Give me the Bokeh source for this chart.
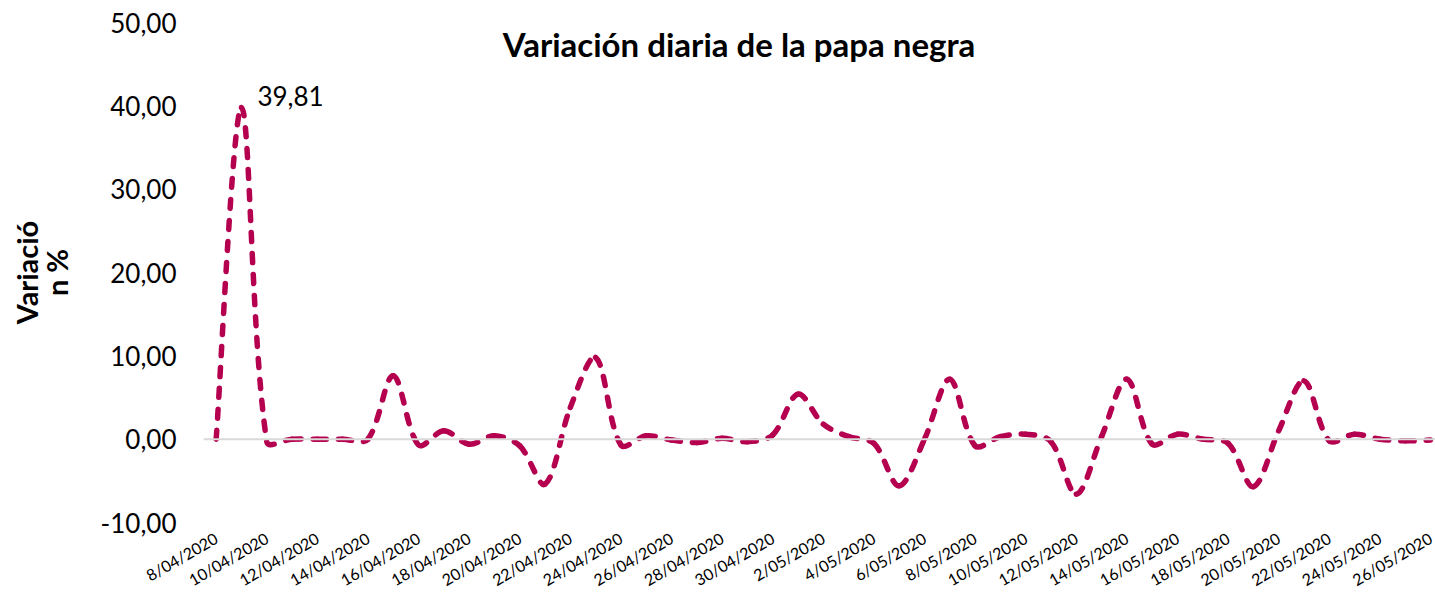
import math
from bokeh.plotting import figure
from bokeh.models import Range1d, FixedTicker, Span, Label
from bokeh.embed import file_html
from bokeh.resources import INLINE

# ---------------- data ----------------
dates = [
    "8/04/2020", "9/04/2020", "10/04/2020", "11/04/2020", "12/04/2020", "13/04/2020",
    "14/04/2020", "15/04/2020", "16/04/2020", "17/04/2020", "18/04/2020", "19/04/2020",
    "20/04/2020", "21/04/2020", "22/04/2020", "23/04/2020", "24/04/2020", "25/04/2020",
    "26/04/2020", "27/04/2020", "28/04/2020", "29/04/2020", "30/04/2020",
    "1/05/2020", "2/05/2020", "3/05/2020", "4/05/2020", "5/05/2020", "6/05/2020",
    "7/05/2020", "8/05/2020", "9/05/2020", "10/05/2020", "11/05/2020", "12/05/2020",
    "13/05/2020", "14/05/2020", "15/05/2020", "16/05/2020", "17/05/2020", "18/05/2020",
    "19/05/2020", "20/05/2020", "21/05/2020", "22/05/2020", "23/05/2020", "24/05/2020",
    "25/05/2020", "26/05/2020",
]
variacion = [
    0.0, 39.81, -0.3, 0.0, 0.0, 0.0,
    0.0, 7.6, -0.7, 1.0, -0.6, 0.4,
    -0.8, -5.4, 3.8, 9.8, -0.7, 0.4,
    -0.1, -0.4, 0.1, -0.3, 0.5,
    5.4, 1.8, 0.3, -0.5, -5.6, 0.0,
    7.2, -0.8, 0.3, 0.6, -0.3, -6.6,
    0.3, 7.2, -0.6, 0.6, 0.0, -0.5,
    -5.7, 1.0, 7.0, -0.2, 0.6, 0.0,
    -0.2, -0.1,
]
y_ticks = [-10, 0, 10, 20, 30, 40, 50]
y_tick_labels = ["-10,00", "0,00", "10,00", "20,00", "30,00", "40,00", "50,00"]
title_text = "Variación diaria de la papa negra"
y_title = "Variació\nn %"

# ---------------- layout ----------------
W, H = 1435, 601
FRAME_L, FRAME_T, FRAME_B = 203, 22, 79
X0, X1 = -0.5, 48.2
Y0, Y1 = -10, 50
LINE_COLOR = "#B4004E"
FONT = "Lato"

p = figure(width=W, height=H, output_backend="svg", toolbar_location=None,
           x_range=Range1d(X0, X1), y_range=Range1d(Y0, Y1),
           min_border_left=FRAME_L, min_border_right=0,
           min_border_top=FRAME_T, min_border_bottom=FRAME_B)
p.outline_line_color = None
p.xgrid.visible = False
p.ygrid.visible = False
p.background_fill_color = "white"
p.border_fill_color = "white"

# zero line
p.add_layout(Span(location=0, dimension="width", line_color="#D9D9D9", line_width=2))

# smoothed dashed line: Bezier segments whose control points come from the data
xs = list(range(len(variacion)))
frame_w = W - FRAME_L
frame_h = H - FRAME_T - FRAME_B
sx = frame_w / (X1 - X0)
sy = frame_h / (Y1 - Y0)
P = [(x * sx, v * sy) for x, v in zip(xs, variacion)]
n = len(P)

def dist(a, b):
    return math.hypot(b[0] - a[0], b[1] - a[1])

d = [dist(P[i], P[i + 1]) for i in range(n - 1)]
T = []
for i in range(n):
    a = P[max(i - 1, 0)]
    b = P[min(i + 1, n - 1)]
    T.append((b[0] - a[0], b[1] - a[1]))

bx0, by0, bx1, by1, bcx0, bcy0, bcx1, bcy1 = [], [], [], [], [], [], [], []
for i in range(n - 1):
    dl = d[i - 1] if i > 0 else d[i]
    dr = d[i + 1] if i + 1 < n - 1 else d[i]
    k0 = d[i] / (3.0 * (dl + d[i]))
    k1 = d[i] / (3.0 * (d[i] + dr))
    c0 = (P[i][0] + T[i][0] * k0, P[i][1] + T[i][1] * k0)
    c1 = (P[i + 1][0] - T[i + 1][0] * k1, P[i + 1][1] - T[i + 1][1] * k1)
    bx0.append(xs[i]); by0.append(variacion[i])
    bx1.append(xs[i + 1]); by1.append(variacion[i + 1])
    bcx0.append(c0[0] / sx); bcy0.append(c0[1] / sy)
    bcx1.append(c1[0] / sx); bcy1.append(c1[1] / sy)

p.bezier(x0=bx0, y0=by0, x1=bx1, y1=by1, cx0=bcx0, cy0=bcy0, cx1=bcx1, cy1=bcy1,
         line_color=LINE_COLOR, line_width=5.5, line_dash="9 12", line_cap="round")

# data label on the maximum
imax = max(range(n), key=lambda i: variacion[i])
p.add_layout(Label(x=xs[imax], y=variacion[imax], text=f"{variacion[imax]:.2f}".replace(".", ","),
                   x_offset=16, y_offset=11, text_baseline="middle", text_align="left",
                   text_font=FONT, text_font_size="26px", text_color="#000000"))

# title inside the chart area
p.add_layout(Label(x=20.67, y=47.4, text=title_text, text_align="center", text_baseline="middle",
                   text_font=FONT, text_font_size="33px", text_font_style="bold",
                   text_color="#000000"))

# x axis (dates every second day, rotated)
p.xaxis.axis_label = None
p.xaxis.ticker = FixedTicker(ticks=list(range(0, n, 2)))
p.xaxis.major_label_overrides = {i: dates[i] for i in range(0, n, 2)}
p.xaxis.major_label_orientation = math.radians(30)
p.xaxis.major_label_text_font = FONT
p.xaxis.major_label_text_font_size = "16px"
p.xaxis.major_label_text_color = "#000000"
p.xaxis.major_label_standoff = 14
p.xaxis.major_tick_out = 0
p.xaxis.major_tick_in = 0
p.xaxis.minor_tick_out = 0
p.xaxis.minor_tick_in = 0
p.xaxis.axis_line_color = None
p.xaxis.major_tick_line_color = None
p.xaxis.minor_tick_line_color = None

# y axis
p.yaxis.ticker = FixedTicker(ticks=y_ticks)
p.yaxis.major_label_overrides = dict(zip(y_ticks, y_tick_labels))
p.yaxis.major_label_text_font = FONT
p.yaxis.major_label_text_font_size = "26px"
p.yaxis.major_label_text_color = "#000000"
p.yaxis.major_label_standoff = 27
p.yaxis.major_tick_out = 0
p.yaxis.major_tick_in = 0
p.yaxis.minor_tick_out = 0
p.yaxis.minor_tick_in = 0
p.yaxis.axis_line_color = None
p.yaxis.major_tick_line_color = None
p.yaxis.minor_tick_line_color = None
p.yaxis.axis_label = y_title
p.yaxis.axis_label_text_font = FONT
p.yaxis.axis_label_text_font_size = "29px"
p.yaxis.axis_label_text_font_style = "bold"
p.yaxis.axis_label_text_line_height = 0.85
p.yaxis.axis_label_text_color = "#000000"
p.yaxis.axis_label_standoff = 24

open("out.html", "w").write(file_html(p, INLINE))
